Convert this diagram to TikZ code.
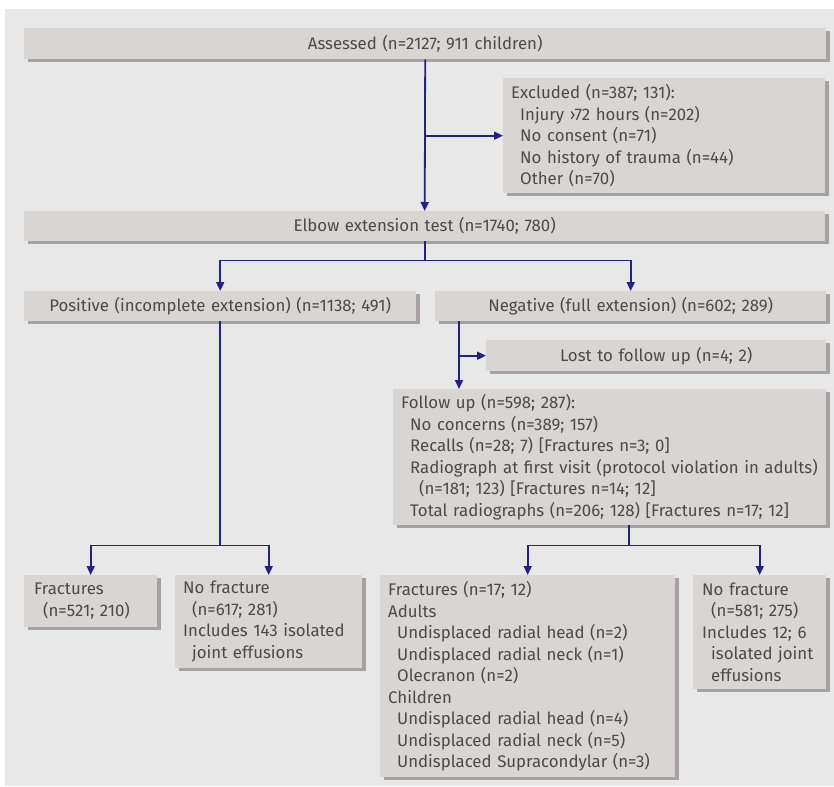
\documentclass[tikz,border=0pt]{standalone}
\usepackage{fontspec}
\setmainfont{Fira Sans}
\usetikzlibrary{arrows.meta,shadows,calc}
\definecolor{bggray}{HTML}{E8E8E8}
\definecolor{boxgray}{HTML}{D9D5D3}
\definecolor{shadowgray}{HTML}{A8A1A1}
\definecolor{txtgray}{HTML}{4A4A4A}
\definecolor{navy}{HTML}{222280}
\tikzset{
  box/.style={fill=boxgray, anchor=north west, inner xsep=8pt, inner ysep=0pt,
    text=txtgray, font=\fontsize{16.8}{21.5}\selectfont,
    drop shadow={shadow xshift=4pt, shadow yshift=-3pt, fill=shadowgray, opacity=1}},
  arr/.style={draw=navy, line width=1.8pt, -{Triangle[length=9pt,width=8pt]}},
  ln/.style={draw=navy, line width=1.8pt},
}
\newcommand{\ind}{\hspace*{9pt}}
\begin{document}
\begin{tikzpicture}[x=1pt,y=-1pt]
\useasboundingbox (0,0) rectangle (834,786);
\fill[white] (0,0) rectangle (834,786);
\fill[bggray] (5,9) rectangle (834,786);

\node[box, align=center, text width=786pt, minimum height=31pt] (ass) at (24,28) {Assessed (n=2127; 911 children)};
\node[box, align=left, text width=306pt, minimum height=115pt] (exc) at (503,78) {Excluded (n=387; 131):\\\ind Injury ›72 hours (n=202)\\\ind No consent (n=71)\\\ind No history of trauma (n=44)\\\ind Other (n=70)};
\node[box, align=center, text width=785pt, minimum height=30pt] (elb) at (24,211) {Elbow extension test (n=1740; 780)};
\node[box, align=center, text width=376pt, minimum height=30pt] (pos) at (24,291) {\mbox{Positive (incomplete extension) (n=1138; 491)}};
\node[box, align=center, text width=375pt, minimum height=30pt] (neg) at (435,291) {Negative (full extension) (n=602; 289)};
\node[box, align=center, text width=324pt, minimum height=31pt] (lost) at (486,340) {Lost to follow up (n=4; 2)};
\node[box, align=left, text width=417pt, minimum height=136pt] (fu) at (393,389) {Follow up (n=598; 287):\\\ind No concerns (n=389; 157)\\\ind Recalls (n=28; 7) [Fractures n=3; 0]\\\ind \mbox{Radiograph at first visit (protocol violation in adults)}\\\ind\ind (n=181; 123) [Fractures n=14; 12]\\\ind \mbox{Total radiographs (n=206; 128) [Fractures n=17; 12]}};
\node[box, align=left, inner xsep=10pt, text width=113pt, minimum height=52pt] (frl) at (24,575) {Fractures\\\ind (n=521; 210)};
\node[box, align=left, text width=171pt, minimum height=93pt] (nfl) at (175,575) {No fracture\\\ind (n=617; 281)\\\mbox{Includes 143 isolated}\\\ind joint effusions};
\node[box, align=left, text width=279pt, minimum height=202pt] (frr) at (380,575) {Fractures (n=17; 12)\\Adults\\\ind Undisplaced radial head (n=2)\\\ind Undisplaced radial neck (n=1)\\\ind Olecranon (n=2)\\Children\\\ind Undisplaced radial head (n=4)\\\ind Undisplaced radial neck (n=5)\\\ind \mbox{Undisplaced Supracondylar (n=3)}};
\node[box, align=left, inner xsep=9pt, text width=115pt, minimum height=114pt] (nfr) at (693,575) {No fracture\\\ind \mbox{(n=581; 275)}\\Includes 12; 6\\\ind isolated joint\\\ind effusions};

% connectors
\draw[arr] (ass.south) -- (elb.north);
\coordinate (b1) at (ass.south |- exc.west);
\draw[arr] (b1) -- (exc.west);

\coordinate (e1) at ($(elb.south)+(0,19)$);
\draw[ln] (elb.south) -- (e1);
\draw[arr] (e1) -| (pos.north);
\draw[arr] (e1) -| (neg.north);

\coordinate (n1) at ([xshift=24pt]neg.south west);
\draw[arr] (n1) -- (n1 |- fu.north);
\draw[arr] (n1 |- lost.west) -- (lost.west);

\coordinate (p1) at ($(pos.south)+(0,224)$);
\draw[ln] (pos.south) -- (p1);
\draw[arr] (p1) -| (frl.north);
\draw[arr] (p1) -| (nfl.north);

\coordinate (f0) at ([xshift=236pt]fu.south west);
\coordinate (f1) at ($(f0)+(0,20)$);
\draw[ln] (f0) -- (f1);
\draw[arr] (f1) -| (frr.north);
\draw[arr] (f1) -| (nfr.north);
\end{tikzpicture}
\end{document}
